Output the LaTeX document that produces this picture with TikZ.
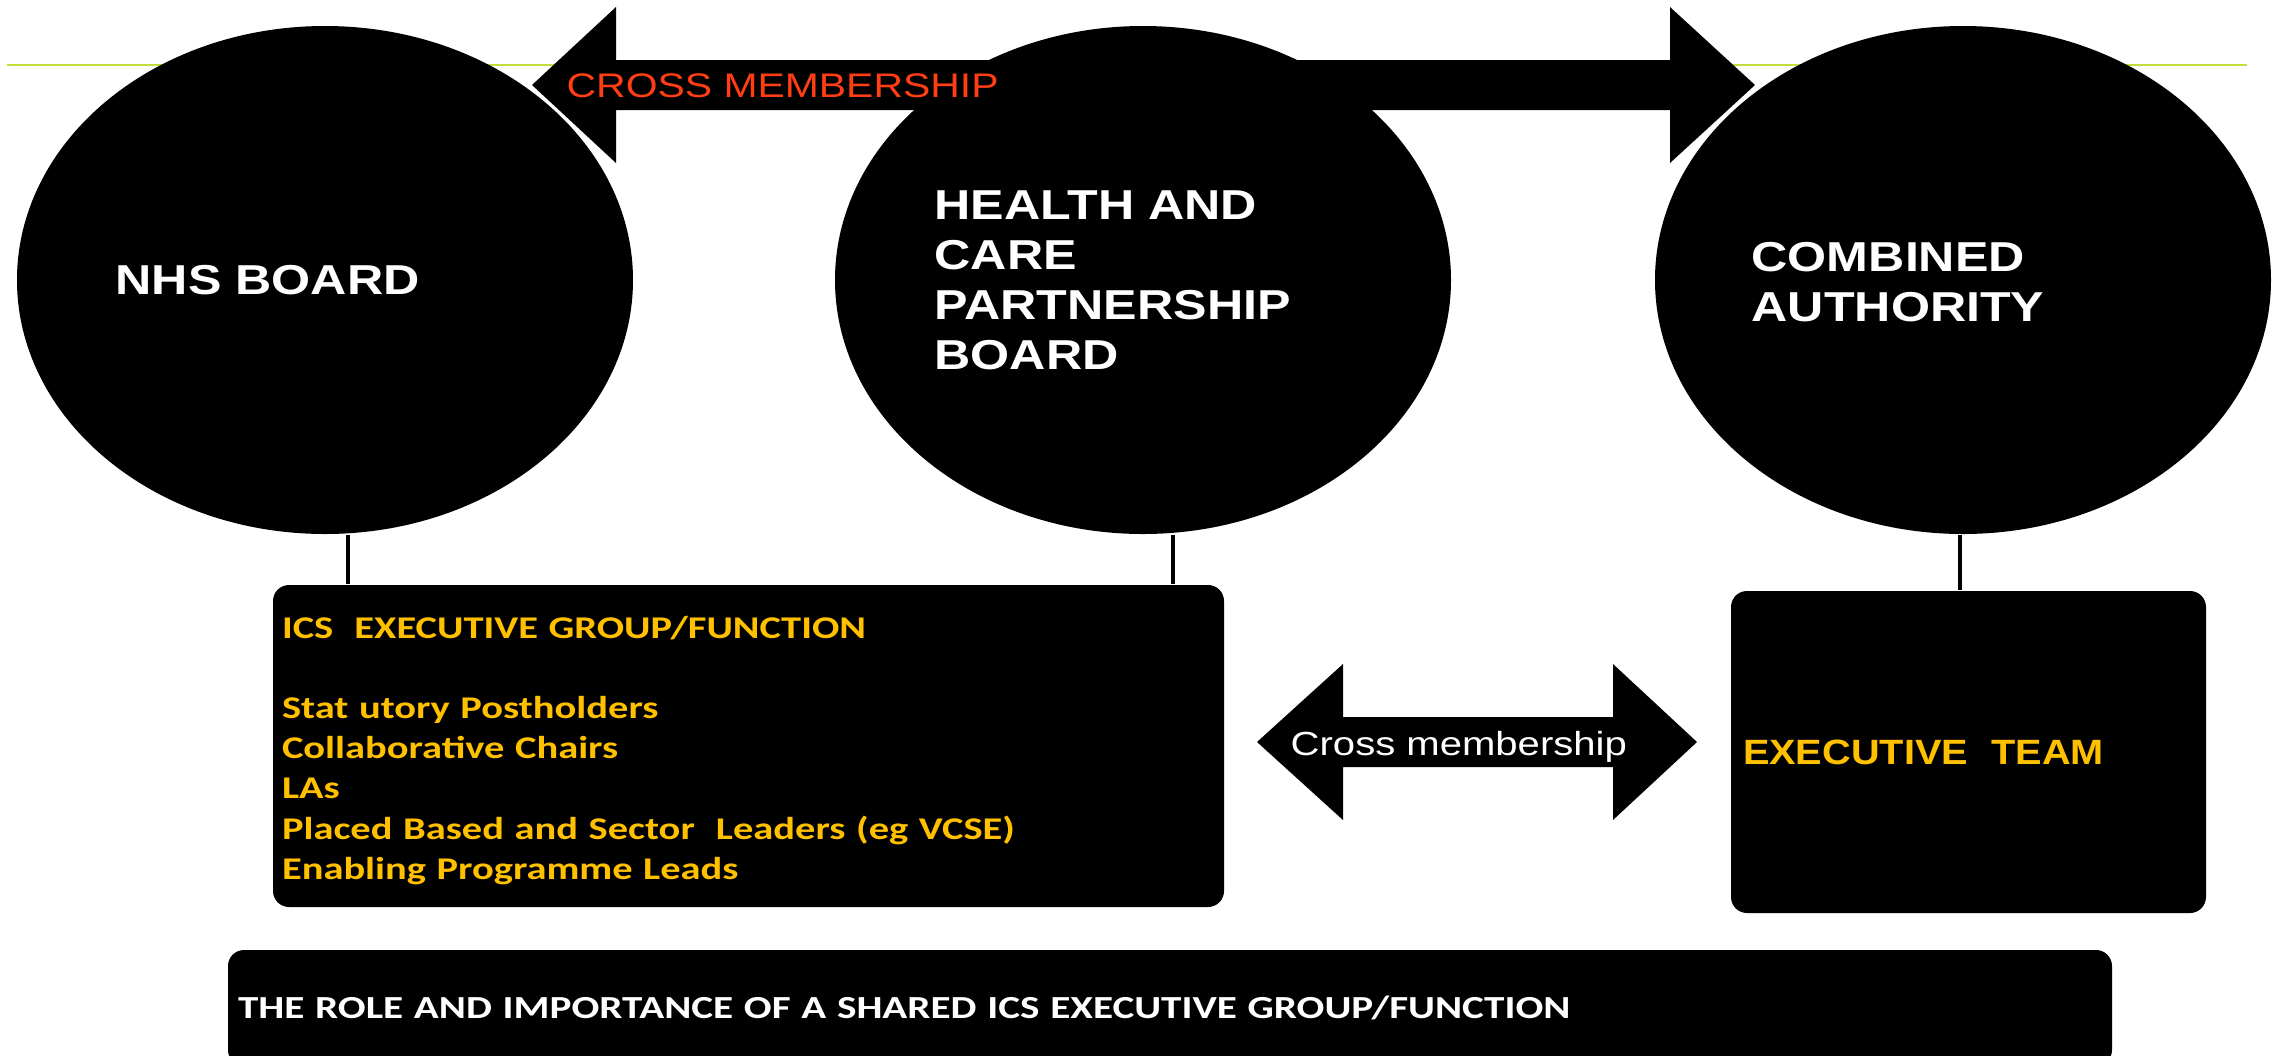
\documentclass[tikz,border=0pt]{standalone}
\usepackage{fontspec}
\setmainfont{Liberation Sans}
\newfontfamily\boardfont[FakeStretch=1.2]{Liberation Sans}
\newfontfamily\teamfont[FakeStretch=1.13]{Liberation Sans}
\newfontfamily\execfont[FakeStretch=1.28]{Carlito}
\usetikzlibrary{shapes,arrows,calc,fit}

\definecolor{gold}{RGB}{255,192,0}
\definecolor{flame}{RGB}{255,62,20}
\definecolor{rulegreen}{RGB}{198,217,62}

\tikzset{
	board/.style={ellipse, fill=black, inner sep=0pt, minimum width=6.16cm, minimum height=5.08cm},
	boardtext/.style={anchor=north west, inner sep=0pt, text=white, align=left, font=\boardfont\bfseries\fontsize{11.9}{14.2}\selectfont},
	panel/.style={rectangle, rounded corners=0.16cm, fill=black, inner sep=0pt, align=left},
	paneltext/.style={font=\execfont\bfseries\fontsize{9}{11.4}\selectfont},
	link/.style={draw=black, line width=1.1pt},
	blockarrow/.style={fill=black}
}

\begin{document}
\begin{tikzpicture}
	\useasboundingbox (0,0) rectangle (22.85,-10.56);

	\coordinate (rule-l) at (0.07,-0.65);
	\coordinate (rule-r) at (22.47,-0.65);
	\draw[rulegreen, line width=0.8pt] (rule-l) -- (rule-r);

	\foreach \name/\x in {nhs/3.25, hcp/11.43, ca/19.63}
		\node[board] (\name) at (\x,-2.80) {};

	\fill[blockarrow] (5.32,-0.85) -- (6.16,-0.07) -- (6.16,-0.60) -- (16.70,-0.60) -- (16.70,-0.07)
		-- (17.55,-0.85) -- (16.70,-1.63) -- (16.70,-1.10) -- (6.16,-1.10) -- (6.16,-1.63) -- cycle;
	\fill[blockarrow] (12.57,-7.42) -- (13.43,-6.64) -- (13.43,-7.17) -- (16.13,-7.17) -- (16.13,-6.64)
		-- (16.97,-7.42) -- (16.13,-8.20) -- (16.13,-7.67) -- (13.43,-7.67) -- (13.43,-8.20) -- cycle;

	\node[boardtext] (nhs-label) at (1.15,-2.65) {NHS BOARD};
	\node[boardtext] (hcp-label) at (9.34,-1.90) {HEALTH AND\\CARE\\PARTNERSHIP\\BOARD};
	\node[boardtext] (ca-label) at (17.51,-2.42) {COMBINED\\AUTHORITY};

	\node[anchor=base west, inner sep=0pt, text=flame, font=\boardfont\fontsize{9.7}{11}\selectfont]
		(cross-top) at (5.66,-0.97) {CROSS MEMBERSHIP};
	\node[anchor=base west, inner sep=0pt, text=white, font=\boardfont\fontsize{9.5}{11}\selectfont]
		(cross-mid) at (12.90,-7.55) {Cross membership};

	\node[panel, minimum width=9.51cm, minimum height=3.22cm] (ics) at (7.485,-7.46) {};
	\node[paneltext, text=gold, inner sep=0pt, align=left, text width=9.33cm]
		(ics-text) at ([yshift=-0.045cm]ics.center)
		{ICS\ \ EXECUTIVE GROUP/FUNCTION\\[11.4pt]
		Stat utory Postholders\\
		Collaborative Chairs\\
		LAs\\
		Placed Based and Sector\ \ Leaders (eg VCSE)\\
		Enabling Programme Leads};
	\node[panel, text=gold, font=\teamfont\bfseries\fontsize{10}{12}\selectfont, minimum width=4.75cm, minimum height=3.22cm, text width=4.51cm]
		(exec) at (19.685,-7.52) {EXECUTIVE\ \ TEAM};
	\node[panel, text=white, font=\execfont\bfseries\fontsize{9.15}{11.4}\selectfont, minimum width=18.84cm, minimum height=1.16cm, text width=18.64cm]
		(role) at (11.70,-10.08) {THE ROLE AND IMPORTANCE OF A SHARED ICS EXECUTIVE GROUP/FUNCTION};

	\foreach \src/\dst/\dx in {nhs/ics/0.23, hcp/ics/0.30, ca/exec/-0.03}
	{
		\coordinate (drop-\src) at ([xshift=\dx cm]\src.south);
		\draw[link] (drop-\src) -- (drop-\src |- \dst.north);
	}
\end{tikzpicture}
\end{document}
